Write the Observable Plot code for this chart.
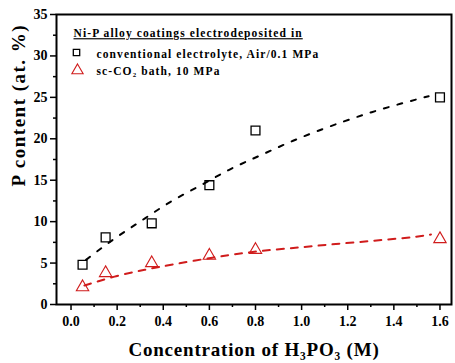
<!DOCTYPE html>
<html>
<head>
<meta charset="utf-8">
<script src="https://cdn.jsdelivr.net/npm/d3@7"></script>
<script src="https://cdn.jsdelivr.net/npm/@observablehq/plot@0.6"></script>
<style>
  html, body { margin: 0; padding: 0; background: #fff; }
</style>
</head>
<body>
<div id="chart"></div>
<script>
// Measured points
const conc = [0.05, 0.15, 0.35, 0.6, 0.8, 1.6];
const pAir = [4.8, 8.1, 9.8, 14.4, 21.0, 25.0];
const pCO2 = [2.1, 3.8, 5.0, 5.9, 6.6, 7.9];

// Dashed fit curves
const fitAirX = [0.065, 0.188, 0.311, 0.434, 0.561, 0.686, 0.810, 0.932, 1.055, 1.183, 1.304, 1.428, 1.551];
const fitAirY = [5.39, 7.93, 10.22, 12.43, 14.36, 16.26, 17.86, 19.39, 20.79, 22.09, 23.21, 24.22, 25.14];
const fitCO2X = [0.058, 0.188, 0.322, 0.441, 0.621, 0.752, 0.882, 1.005, 1.120, 1.243, 1.366, 1.489, 1.561];
const fitCO2Y = [2.29, 3.42, 4.22, 4.83, 5.71, 6.24, 6.64, 6.92, 7.24, 7.52, 7.84, 8.12, 8.45];

// Ticks and labels
const xTicks = [0, 0.2, 0.4, 0.6, 0.8, 1.0, 1.2, 1.4, 1.6];
const xMinor = [0.1, 0.3, 0.5, 0.7, 0.9, 1.1, 1.3, 1.5];
const yTicks = [0, 5, 10, 15, 20, 25, 30, 35];
const yMinor = [2.5, 7.5, 12.5, 17.5, 22.5, 27.5, 32.5];

const legendTitle = "Ni-P alloy coatings electrodeposited in";
const seriesNames = ["conventional electrolyte, Air/0.1 MPa", "sc-CO\u2082 bath, 10 MPa"];
const xLabel = "Concentration of H\u2083PO\u2083 (M)";
const yLabel = "P content (at. %)";

const RED = "#d01c1c";

const air = conc.map((c, i) => ({x: c, y: pAir[i]}));
const co2 = conc.map((c, i) => ({x: c, y: pCO2[i]}));
const fitAir = fitAirX.map((x, i) => ({x, y: fitAirY[i]}));
const fitCO2 = fitCO2X.map((x, i) => ({x, y: fitCO2Y[i]}));

const chart = Plot.plot({
  width: 455,
  height: 363,
  marginLeft: 56,
  marginRight: 4,
  marginTop: 14,
  marginBottom: 59,
  style: {fontFamily: "'Liberation Serif', 'Times New Roman', serif", fontWeight: "bold", fontSize: "14px", color: "#000", background: "#fff"},
  x: {domain: [-0.063, 1.65]},
  y: {domain: [0, 35]},
  marks: [
    Plot.axisX({ticks: xMinor, tickSize: 3, tickFormat: () => "", strokeWidth: 1.5, label: null}),
    Plot.axisX({ticks: xTicks, tickSize: 6, tickPadding: 6, tickFormat: d3.format(".1f"), strokeWidth: 1.5, label: null, fontSize: 14}),
    Plot.axisY({ticks: yMinor, tickSize: 3, tickFormat: () => "", strokeWidth: 1.5, label: null}),
    Plot.axisY({ticks: yTicks, tickSize: 6, tickPadding: 3, strokeWidth: 1.5, label: null, fontSize: 14}),
    Plot.frame({stroke: "#000", strokeWidth: 2}),
    Plot.line(fitAir, {x: "x", y: "y", stroke: "#000", strokeWidth: 2, strokeDasharray: "5,9", curve: "natural"}),
    Plot.line(fitCO2, {x: "x", y: "y", stroke: RED, strokeWidth: 2, strokeDasharray: "7,7", curve: "basis"}),
    Plot.dot(air, {x: "x", y: "y", symbol: "square", r: 5, stroke: "#000", strokeWidth: 1.3, fill: "none"}),
    Plot.dot(co2, {x: "x", y: "y", symbol: "triangle", r: 4.6, stroke: RED, strokeWidth: 1.1, fill: "none"}),
    // legend
    Plot.text([legendTitle], {text: d => d, frameAnchor: "top-left", textAnchor: "start", lineAnchor: "middle", dx: 17, dy: 19, fontSize: 11.5, fill: "#000"}),
    Plot.dot([0], {frameAnchor: "top-left", dx: 20, dy: 38, symbol: "square", r: 3.6, stroke: "#000", strokeWidth: 1.3, fill: "none"}),
    Plot.text([seriesNames[0]], {text: d => d, frameAnchor: "top-left", textAnchor: "start", lineAnchor: "middle", dx: 40, dy: 40, fontSize: 11.5, fill: "#000"}),
    Plot.dot([0], {frameAnchor: "top-left", dx: 21, dy: 56, symbol: "triangle", r: 4.2, stroke: RED, strokeWidth: 1.1, fill: "none"}),
    Plot.text([seriesNames[1]], {text: d => d, frameAnchor: "top-left", textAnchor: "start", lineAnchor: "middle", dx: 40, dy: 57, fontSize: 11.5, fill: "#000"}),
    // axis labels
    Plot.text([xLabel], {text: d => d, frameAnchor: "bottom", lineAnchor: "middle", dy: 45, fontSize: 19, fill: "#000"}),
    Plot.text([yLabel], {text: d => d, frameAnchor: "left", lineAnchor: "middle", rotate: -90, dx: -38, dy: 27, fontSize: 19, fill: "#000"})
  ]
});

document.getElementById("chart").appendChild(chart);

// typographic touch-ups: underline legend title, letter spacing like the original
d3.select(chart).selectAll("text").each(function() {
  const t = this.textContent;
  const s = d3.select(this);
  if (t === legendTitle) s.style("text-decoration", "underline").style("letter-spacing", "1.1px");
  else if (seriesNames.includes(t)) s.style("letter-spacing", "1.1px");
  else if (t === xLabel) s.style("letter-spacing", "0.8px");
  else if (t === yLabel) s.style("letter-spacing", "1.5px");
});
</script>
</body>
</html>
